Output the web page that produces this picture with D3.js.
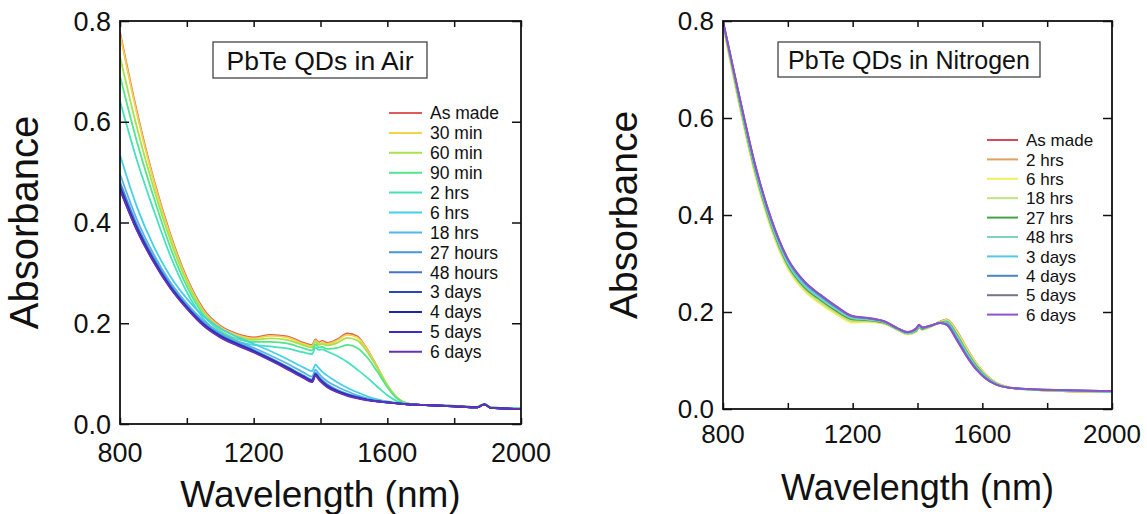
<!DOCTYPE html>
<html>
<head>
<meta charset="utf-8">
<script src="https://cdn.jsdelivr.net/npm/d3@7"></script>
<style>
  body { margin: 0; background: #fff; }
  svg text { font-family: "Liberation Sans", Arial, sans-serif; fill: #111; }
</style>
</head>
<body>
<svg id="chart" width="1147" height="514"></svg>
<script>
// ---------- data: air panel ----------
var airWavelengths = [800, 850, 900, 950, 1000, 1050, 1100, 1150, 1200, 1250, 1300, 1350, 1375, 1385, 1395, 1405, 1420, 1450, 1480, 1510, 1540, 1570, 1600, 1630, 1660, 1700, 1800, 1870, 1890, 1910, 2000];
var airLabels = ["As made", "30 min", "60 min", "90 min", "2 hrs", "6 hrs", "18 hrs", "27 hours", "48 hours", "3 days", "4 days", "5 days", "6 days"];
var airColors = ["#e05a5a", "#f2d447", "#a6e24e", "#52e58c", "#45e2bd", "#45d0e6", "#55b6e8", "#4696da", "#4474d2", "#2846ba", "#1a26a8", "#3a2ac6", "#6432b8"];

var airAsMade = [.778, .622, .488, .378, .290, .228, .195, .179, .172, .177, .174, .161, .157, .168, .162, .165, .161, .168, .180, .174, .148, .113, .076, .051, .041, .038, .036, .034, .040, .033, .031];
var air30min  = [.774, .618, .485, .375, .287, .225, .193, .177, .170, .175, .172, .159, .155, .166, .160, .163, .159, .166, .177, .172, .147, .113, .077, .052, .041, .038, .036, .034, .040, .033, .031];
var air60min  = [.729, .590, .470, .366, .282, .222, .190, .174, .167, .170, .167, .156, .152, .163, .157, .159, .156, .161, .171, .166, .143, .111, .077, .052, .041, .038, .036, .034, .040, .033, .031];
var air90min  = [.691, .562, .452, .352, .273, .216, .185, .169, .163, .163, .160, .150, .146, .158, .152, .153, .149, .151, .157, .151, .132, .104, .073, .050, .041, .038, .036, .034, .040, .033, .031];
var air2hrs   = [.641, .525, .426, .335, .262, .209, .179, .164, .157, .154, .150, .142, .139, .152, .147, .148, .144, .135, .123, .108, .092, .074, .057, .045, .040, .038, .036, .034, .040, .033, .031];
var air6hrs   = [.534, .432, .354, .294, .249, .214, .190, .173, .159, .145, .129, .112, .105, .118, .111, .104, .096, .083, .072, .063, .055, .049, .045, .042, .040, .038, .035, .033, .039, .032, .030];
var air18hrs  = [.496, .407, .338, .282, .239, .205, .181, .165, .151, .136, .120, .102, .094, .108, .100, .093, .085, .074, .065, .057, .051, .047, .044, .041, .039, .038, .035, .033, .039, .032, .030];
var air27hrs  = [.481, .397, .331, .277, .235, .201, .177, .161, .147, .131, .114, .096, .088, .102, .094, .087, .079, .068, .060, .054, .049, .046, .043, .041, .039, .038, .035, .033, .039, .032, .030];
var air48hrs  = [.476, .393, .328, .275, .233, .199, .176, .160, .146, .130, .113, .095, .087, .100, .092, .085, .077, .066, .059, .053, .048, .045, .043, .041, .039, .038, .035, .033, .039, .032, .030];
var air3days  = [.471, .390, .326, .273, .232, .198, .175, .159, .145, .129, .112, .094, .086, .099, .091, .084, .076, .065, .058, .053, .048, .045, .043, .041, .039, .038, .035, .033, .039, .032, .030];
var air4days  = [.468, .388, .324, .272, .231, .197, .174, .158, .144, .128, .111, .093, .085, .098, .090, .083, .075, .065, .058, .052, .048, .045, .043, .041, .039, .038, .035, .033, .039, .032, .030];
var air5days  = [.466, .386, .323, .271, .230, .196, .173, .157, .143, .127, .110, .092, .084, .097, .089, .082, .074, .064, .057, .052, .048, .045, .043, .041, .039, .038, .035, .033, .039, .032, .030];
var air6days  = [.465, .385, .322, .270, .229, .195, .172, .156, .142, .126, .109, .091, .083, .096, .088, .081, .073, .063, .056, .051, .047, .045, .043, .041, .039, .038, .035, .033, .039, .032, .030];

// ---------- data: nitrogen panel ----------
var n2Wavelengths = [800, 850, 900, 950, 1000, 1050, 1100, 1150, 1200, 1250, 1300, 1340, 1370, 1395, 1405, 1415, 1440, 1470, 1490, 1520, 1550, 1580, 1610, 1640, 1680, 1750, 1850, 2000];
var n2Labels = ["As made", "2 hrs", "6 hrs", "18 hrs", "27 hrs", "48 hrs", "3 days", "4 days", "5 days", "6 days"];
var n2Colors = ["#d84a5a", "#e2a062", "#eeee5e", "#c0e282", "#42a444", "#80d2c2", "#52c8e8", "#4888c2", "#7a7090", "#9050d0"];

var n2AsMade = [.795, .632, .485, .373, .293, .248, .221, .199, .182, .181, .176, .163, .155, .160, .168, .164, .170, .180, .184, .161, .127, .095, .071, .055, .045, .040, .037, .035];
var n22hrs   = [.794, .630, .484, .372, .292, .247, .220, .198, .181, .180, .176, .163, .155, .160, .168, .164, .170, .180, .185, .163, .128, .096, .072, .055, .045, .040, .037, .035];
var n26hrs   = [.790, .627, .480, .368, .289, .244, .217, .195, .178, .179, .175, .162, .154, .159, .167, .163, .169, .179, .183, .160, .126, .095, .071, .055, .045, .040, .037, .035];
var n218hrs  = [.793, .632, .485, .373, .293, .248, .221, .199, .182, .181, .176, .163, .155, .160, .168, .164, .170, .179, .182, .157, .123, .092, .069, .054, .045, .040, .038, .036];
var n227hrs  = [.796, .636, .489, .377, .297, .252, .225, .202, .185, .183, .177, .164, .156, .161, .169, .165, .171, .178, .180, .154, .120, .090, .068, .053, .044, .040, .038, .036];
var n248hrs  = [.797, .638, .492, .380, .300, .255, .228, .205, .187, .184, .178, .164, .156, .162, .170, .166, .171, .178, .179, .152, .118, .088, .067, .053, .044, .040, .038, .036];
var n23days  = [.799, .642, .496, .384, .304, .258, .231, .208, .189, .186, .179, .165, .157, .163, .171, .167, .172, .177, .177, .149, .115, .086, .065, .052, .044, .041, .038, .036];
var n24days  = [.800, .645, .500, .388, .308, .262, .234, .210, .191, .187, .180, .166, .158, .165, .173, .168, .172, .177, .175, .146, .112, .084, .064, .051, .044, .041, .039, .037];
var n25days  = [.800, .646, .501, .389, .309, .263, .235, .211, .191, .187, .180, .166, .158, .165, .173, .168, .172, .177, .174, .145, .111, .083, .063, .051, .044, .041, .039, .037];
var n26days  = [.800, .647, .502, .390, .310, .264, .236, .212, .192, .188, .180, .166, .159, .166, .174, .168, .172, .177, .173, .143, .110, .082, .063, .051, .044, .041, .039, .037];

var xTicks = [800, 1000, 1200, 1400, 1600, 1800, 2000];
var xTickLabels = [800, 1200, 1600, 2000];
var yTicks = [0, 0.2, 0.4, 0.6, 0.8];

var svg = d3.select("#chart");

function drawPanel(p) {
    var x = d3.scaleLinear().domain([800, 2000]).range([p.left, p.right]);
    var y = d3.scaleLinear().domain([0, 0.8]).range([p.bottom, p.top]);
    var g = svg.append("g");

    // clip for curves
    g.append("clipPath").attr("id", p.id + "clip")
        .append("rect")
        .attr("x", p.left).attr("y", p.top)
        .attr("width", p.right - p.left).attr("height", p.bottom - p.top);

    var line = d3.line()
        .x((d, i) => x(p.wavelengths[i]))
        .y(d => y(d))
        .curve(d3.curveMonotoneX);

    g.append("g").attr("clip-path", "url(#" + p.id + "clip)")
        .selectAll("path")
        .data(p.series)
        .enter().append("path")
        .attr("d", d => line(d))
        .attr("fill", "none")
        .attr("stroke", (d, i) => p.colors[i])
        .attr("stroke-width", 1.8);

    // axes with inward ticks on all four sides
    var fmt = d3.format(".1f");
    g.append("g").attr("transform", "translate(0," + p.bottom + ")")
        .call(d3.axisBottom(x).tickValues(xTicks).tickSizeInner(-6).tickSizeOuter(0).tickFormat(""));
    g.append("g").attr("transform", "translate(0," + p.top + ")")
        .call(d3.axisTop(x).tickValues(xTicks).tickSizeInner(-6).tickSizeOuter(0).tickFormat(""));
    g.append("g").attr("transform", "translate(" + p.left + ",0)")
        .call(d3.axisLeft(y).tickValues(yTicks).tickSizeInner(-9).tickSizeOuter(0).tickFormat(""));
    g.append("g").attr("transform", "translate(" + p.right + ",0)")
        .call(d3.axisRight(y).tickValues(yTicks).tickSizeInner(-9).tickSizeOuter(0).tickFormat(""));
    g.selectAll(".domain").remove();
    g.selectAll(".tick line").attr("stroke", "#111").attr("stroke-width", 1.5);

    g.append("rect")
        .attr("x", p.left).attr("y", p.top)
        .attr("width", p.right - p.left).attr("height", p.bottom - p.top)
        .attr("fill", "none").attr("stroke", "#111").attr("stroke-width", 1.8);

    // tick labels
    g.selectAll(".ylab").data(yTicks).enter().append("text")
        .attr("x", p.left - 9).attr("y", d => y(d))
        .attr("dy", "0.36em")
        .attr("text-anchor", "end")
        .style("font-size", p.tickFont + "px")
        .text(d => fmt(d));
    g.selectAll(".xlab").data(xTickLabels).enter().append("text")
        .attr("x", d => x(d)).attr("y", p.xLabY)
        .attr("text-anchor", "middle")
        .style("font-size", p.tickFont + "px")
        .text(d => d);

    // axis titles
    g.append("text")
        .attr("x", (p.left + p.right) / 2).attr("y", p.xTitleY)
        .attr("text-anchor", "middle")
        .style("font-size", p.xTitleFont + "px")
        .text("Wavelength (nm)");
    g.append("text")
        .attr("transform", "translate(" + p.yTitleX + "," + (p.top + p.bottom) / 2 + ") rotate(-90)")
        .attr("text-anchor", "middle")
        .style("font-size", p.yTitleFont + "px")
        .text("Absorbance");

    // title box
    g.append("rect")
        .attr("x", p.box[0]).attr("y", p.box[1]).attr("width", p.box[2]).attr("height", p.box[3])
        .attr("fill", "#fff").attr("stroke", "#444").attr("stroke-width", 1.3);
    g.append("text")
        .attr("x", p.box[0] + p.box[2] / 2).attr("y", p.box[1] + p.box[3] / 2)
        .attr("dy", "0.36em")
        .attr("text-anchor", "middle")
        .style("font-size", p.boxFont + "px")
        .text(p.title);

    // legend
    var leg = g.append("g");
    p.labels.forEach((lab, i) => {
        var ly = p.legY + i * p.legStep;
        leg.append("line")
            .attr("x1", p.legX).attr("x2", p.legX + p.legLen)
            .attr("y1", ly).attr("y2", ly)
            .attr("stroke", p.colors[i]).attr("stroke-width", 2);
        leg.append("text")
            .attr("x", p.legX + p.legLen + 8).attr("y", ly)
            .attr("dy", "0.36em")
            .style("font-size", p.legFont + "px")
            .text(lab);
    });
}

drawPanel({
    id: "air",
    left: 120, right: 521, top: 21, bottom: 424,
    wavelengths: airWavelengths,
    series: [airAsMade, air30min, air60min, air90min, air2hrs, air6hrs, air18hrs, air27hrs, air48hrs, air3days, air4days, air5days, air6days],
    colors: airColors, labels: airLabels,
    tickFont: 27, xLabY: 462, xTitleY: 507, xTitleFont: 37, yTitleX: 38, yTitleFont: 40,
    box: [213, 42, 214, 36], boxFont: 26.5, title: "PbTe QDs in Air",
    legX: 389, legLen: 33, legY: 113, legStep: 19.9, legFont: 17.5
});

drawPanel({
    id: "n2",
    left: 723, right: 1112, top: 21, bottom: 409,
    wavelengths: n2Wavelengths,
    series: [n2AsMade, n22hrs, n26hrs, n218hrs, n227hrs, n248hrs, n23days, n24days, n25days, n26days],
    colors: n2Colors, labels: n2Labels,
    tickFont: 26, xLabY: 443, xTitleY: 500, xTitleFont: 36, yTitleX: 637, yTitleFont: 39,
    box: [778, 42, 262, 35], boxFont: 25, title: "PbTe QDs in Nitrogen",
    legX: 987, legLen: 31, legY: 140, legStep: 19.4, legFont: 17
});
</script>
</body>
</html>
